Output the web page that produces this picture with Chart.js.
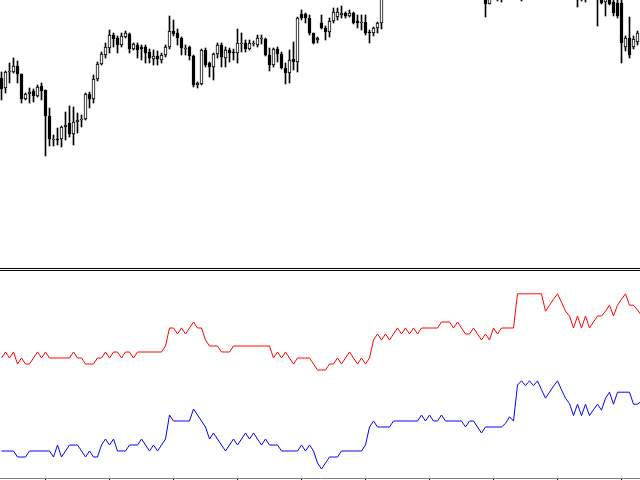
<!DOCTYPE html>
<html>
<head>
<meta charset="utf-8">
<script src="https://cdn.jsdelivr.net/npm/chart.js@4.4.1/dist/chart.umd.min.js"></script>
<style>
  html, body { margin: 0; padding: 0; background: #fff; }
  #wrap { position: relative; width: 640px; height: 480px; overflow: hidden; }
  #priceChart { position: absolute; left: 0; top: 0; }
  #indChart { position: absolute; left: 0; top: 271px; }
  #sep { position: absolute; left: 0; top: 268px; width: 640px; height: 1px;
         border-top: 1px solid #000; border-bottom: 1px solid #000; box-sizing: content-box; }
</style>
</head>
<body>
<div id="wrap">
  <canvas id="priceChart" width="640" height="267"></canvas>
  <div id="sep"></div>
  <canvas id="indChart" width="640" height="209"></canvas>
</div>
<script>
// candles (bar index 0..159)
var opens = [222,212,228,228,234,226,201,206,209,204,214,210,184,160,161,161,173,177,166,178,180,181,206,201,221,236,245,252,265,262,
  255,263,266,251,255,253,253,248,241,244,240,245,253,269,267,262,251,253,244,215,216,250,237,233,246,255,242,250,248,247,
  256,257,251,256,255,261,261,245,235,251,246,232,227,241,238,286,286,282,267,260,277,272,268,279,283,285,287,284,287,279,
  277,278,268,267,272,277,320,330,325,337,348,339,355,362,351,360,368,356,344,352,340,330,338,325,316,322,312,318,309,305,
  303,312,296,315,326,305,318,326,320,326,314,305,316,328,336,330,344,334,340,324,314,304,314,322,310,300,312,303,314,308,
  304,298,306,298,297,297,253,262,253,258];
var highs = [228,229,237,242,239,226,207,212,211,215,217,210,192,165,172,174,188,194,193,187,185,207,208,225,238,248,257,270,267,264,
  267,269,267,257,257,255,255,251,250,249,247,255,284,280,271,263,255,254,245,218,251,252,238,247,257,257,253,252,251,271,
  267,260,260,259,265,265,262,252,252,253,248,237,250,258,283,290,287,285,267,263,285,274,282,292,292,294,288,290,288,285,
  285,285,270,273,278,330,334,338,340,352,352,358,366,365,364,372,371,360,355,356,343,342,340,328,326,324,320,320,312,314,
  314,316,318,330,330,322,330,332,330,330,318,320,332,340,342,348,350,346,344,328,318,318,326,326,314,316,316,318,320,312,
  310,312,310,302,302,300,264,283,264,269];
var lows = [200,207,217,227,217,197,200,197,198,203,200,144,154,154,155,153,160,163,155,167,173,180,192,197,219,235,242,247,253,247,
  253,262,247,250,242,240,237,237,235,235,237,243,251,264,255,245,245,240,213,212,215,233,223,220,242,233,233,238,240,237,
  248,248,250,254,253,256,244,229,233,238,231,216,217,230,228,280,277,265,256,257,271,260,263,277,280,282,282,283,276,272,
  270,265,257,264,267,271,316,322,320,333,335,336,350,348,345,355,352,340,338,336,326,324,322,312,310,309,308,306,303,302,
  301,283,296,310,299,298,314,316,316,310,299,303,312,324,326,326,330,328,320,310,303,302,310,306,293,299,298,302,305,274,
  296,284,295,284,282,237,249,242,251,255];
var closes = [211,228,229,234,226,201,206,208,204,213,209,184,161,161,160,173,175,166,178,180,181,206,201,221,236,246,253,265,261,255,
  264,267,251,256,250,251,247,242,244,241,245,253,269,266,262,252,252,244,215,217,250,235,233,246,255,243,250,247,247,257,
  257,251,257,257,262,262,245,235,251,246,232,227,240,238,282,282,282,267,257,262,272,268,279,288,288,287,284,287,277,277,
  278,267,267,272,277,320,330,325,337,348,339,355,362,351,360,368,356,344,352,340,330,338,325,316,322,312,318,309,305,310,
  310,296,315,326,305,318,326,320,326,314,305,316,328,336,330,344,334,340,324,314,304,314,322,310,300,312,303,314,308,304,
  297,306,296,287,284,257,262,245,261,267];

// indicator lines (bar index 0..160)
var redLine = [17.5,18.5,17.5,18.5,16.5,17.5,16.5,16.5,17.5,18.5,17.5,18.5,17.5,17.5,17.5,17.5,17.5,17.5,18.5,17.5,
  17.5,16.5,16.5,16.5,17.5,17.5,18.5,17.5,18.5,18.5,17.5,18.5,18.5,17.5,18.5,18.5,18.5,18.5,18.5,18.5,
  18.5,19.5,22.5,22.5,21.5,22.5,21.5,22.5,23.5,22.5,22.5,20.5,19.5,19.5,19.5,18.5,18.5,18.5,19.5,19.5,
  19.5,19.5,19.5,19.5,19.5,19.5,19.5,19.5,17.5,18.5,17.5,18.5,17.5,16.5,17.5,17.5,17.5,17.5,16.5,15.5,
  15.5,15.5,16.5,16.5,17.5,16.5,17.5,18.5,17.5,16.5,17.5,16.5,17.5,20.5,21.5,20.5,21.5,20.5,21.5,22.5,
  21.5,22.5,21.5,22.5,21.5,22.5,22.5,22.5,22.5,22.5,23.5,23.5,23.5,22.5,23.5,22.5,21.5,21.5,22.5,21.5,
  20.5,21.5,20.5,22.5,21.5,22.5,22.5,22.5,22.5,28.2,28.2,28.2,28.2,28.2,28.2,28.2,25.3,26.3,27.3,28.2,
  26.8,25.3,24.5,22.5,24.5,22.5,24.5,22.5,23.5,24.5,24.5,25.3,26.3,24.5,26.3,27.3,28.2,26.3,26.3,25.5,24.6];
var blueLine = [2,2,2,2,1,1,1,2,2,2,2,2,2,1,3,1,2,3,3,3,
  2,1,2,1,1,3,4,3,4,2,2,2,3,3,3,4,3,2,3,2,
  3,4,8,7,7,7,7,7,9,8,7,6,4,5,4,3,2,3,4,3,
  4,5,4,5,4,3,4,3,3,3,2,2,2,2,2,3,2,3,2,0,
  -1,0,1,1,1,2,2,2,2,2,2,3,6,7,6,6,6,6,7,7,
  7,7,7,7,7,8,7,8,7,7,8,7,7,7,7,7,6,7,7,6,
  5,6,6,6,6,6,6.6,7.7,7,13,13.7,12.9,13.7,12.9,13.7,12.2,10.8,11.8,12.8,13.7,
  12.2,10.8,9.9,7.9,9.8,7.9,9.8,7.9,8.9,9.8,8.8,10.8,11.8,9.8,11.8,11.8,11.8,11.8,9.8,9.8,10.3];

var tickIdx = [11,27,43,59,75,91,107,123,139,155];

var bodies = [], wicks = [], bodyColors = [];
for (var i = 0; i < opens.length; i++) {
  bodies.push({x: i, y: [opens[i], closes[i]]});
  wicks.push({x: i, y: [lows[i], highs[i]]});
  bodyColors.push(closes[i] >= opens[i] ? '#ffffff' : '#000000');
}

new Chart(document.getElementById('priceChart').getContext('2d'), {
  type: 'bar',
  data: {
    datasets: [{
      data: bodies,
      backgroundColor: bodyColors,
      borderColor: '#000000',
      borderWidth: 1,
      borderSkipped: false,
      barThickness: 3,
      minBarLength: 1,
      grouped: false
    }, {
      data: wicks,
      backgroundColor: '#000000',
      borderWidth: 0,
      barThickness: 1,
      grouped: false
    }]
  },
  options: {
    responsive: false,
    animation: false,
    layout: { padding: 0 },
    plugins: { legend: { display: false }, tooltip: { enabled: false } },
    scales: {
      x: { type: 'linear', display: false, offset: false, min: -0.375, max: 159.625 },
      y: { display: false, min: 33, max: 300 }
    }
  }
});

var idx = [];
for (var j = 0; j < redLine.length; j++) idx.push(j);

new Chart(document.getElementById('indChart').getContext('2d'), {
  type: 'line',
  data: {
    labels: idx,
    datasets: [{
      data: redLine.map(function(v, k) { return {x: k, y: v}; }),
      borderColor: '#ff0000',
      borderWidth: 1,
      pointRadius: 0,
      tension: 0
    }, {
      data: blueLine.map(function(v, k) { return {x: k, y: v}; }),
      borderColor: '#0000ff',
      borderWidth: 1,
      pointRadius: 0,
      tension: 0
    }]
  },
  options: {
    responsive: false,
    animation: false,
    layout: { padding: 0 },
    plugins: { legend: { display: false }, tooltip: { enabled: false } },
    scales: {
      x: {
        type: 'linear', min: -0.375, max: 159.625, offset: false,
        afterBuildTicks: function(scale) {
          scale.ticks = tickIdx.map(function(v) { return {value: v}; });
        },
        ticks: { display: false },
        grid: { drawOnChartArea: false, drawTicks: true, tickLength: 2, color: '#000000' },
        border: { display: true, color: '#808080', width: 1 }
      },
      y: { display: false, min: -2.5, max: 32 }
    }
  }
});
</script>
</body>
</html>
